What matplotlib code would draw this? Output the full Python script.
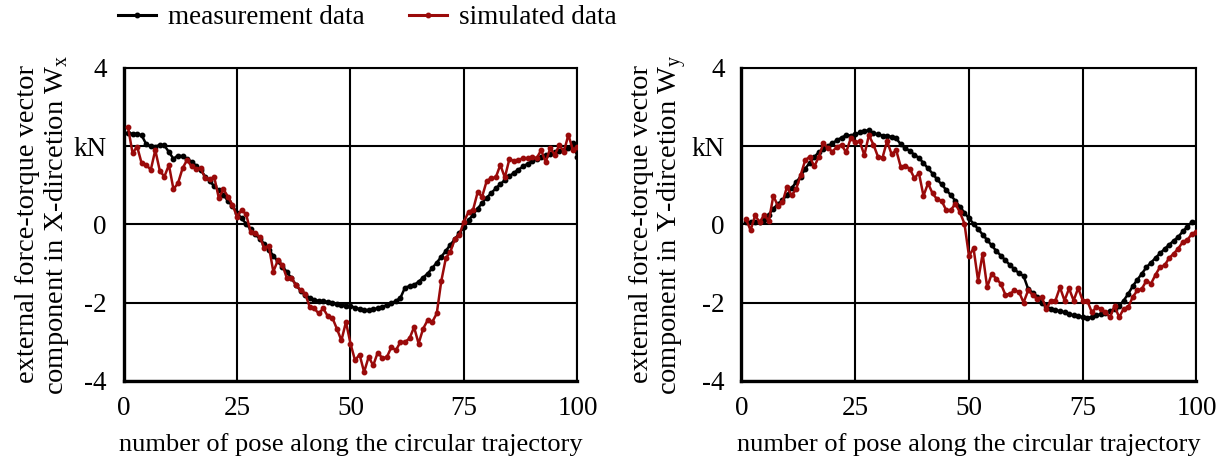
import matplotlib
matplotlib.use("Agg")
import matplotlib.pyplot as plt
from matplotlib.lines import Line2D

plt.rcParams['font.family'] = ['Liberation Serif', 'DejaVu Serif']
plt.rcParams['mathtext.fontset'] = 'custom'
plt.rcParams['mathtext.rm'] = 'Liberation Serif'

pose = list(range(1, 101))

wx_measured = [2.33, 2.32, 2.31, 2.28, 2.05, 2.00, 1.99, 2.03, 2.02, 1.85,
               1.68, 1.76, 1.74, 1.68, 1.60, 1.50, 1.40, 1.22, 1.10, 0.98,
               0.87, 0.75, 0.60, 0.47, 0.30, 0.15, 0.02, -0.13, -0.25, -0.37,
               -0.50, -0.65, -0.80, -0.95, -1.08, -1.22, -1.38, -1.55, -1.70, -1.80,
               -1.88, -1.93, -1.96, -1.97, -1.98, -2.00, -2.03, -2.06, -2.08, -2.10,
               -2.13, -2.17, -2.20, -2.19, -2.17, -2.15, -2.12, -2.06, -2.02, -1.96,
               -1.88, -1.62, -1.58, -1.55, -1.47, -1.36, -1.26, -1.12, -0.98, -0.83,
               -0.68, -0.52, -0.38, -0.22, -0.08, 0.10, 0.25, 0.40, 0.55, 0.68,
               0.80, 0.92, 1.03, 1.13, 1.23, 1.32, 1.40, 1.48, 1.55, 1.62,
               1.67, 1.72, 1.77, 1.81, 1.85, 1.88, 1.90, 1.95, 2.08, 1.73]

wx_simulated = [2.48, 1.82, 1.99, 1.56, 1.53, 1.39, 1.90, 1.37, 1.22, 1.52,
                0.90, 1.05, 1.43, 1.65, 1.48, 1.42, 1.44, 1.18, 1.16, 1.20,
                0.67, 0.90, 0.71, 0.50, 0.20, 0.37, 0.26, -0.19, -0.23, -0.32,
                -0.60, -0.55, -1.21, -0.92, -1.04, -1.38, -1.37, -1.56, -1.68, -1.77,
                -2.11, -2.15, -2.28, -2.15, -2.35, -2.39, -2.67, -2.97, -2.50, -3.05,
                -3.48, -3.33, -3.78, -3.39, -3.61, -3.28, -3.42, -3.40, -3.14, -3.22,
                -3.01, -3.01, -2.92, -2.63, -3.05, -2.67, -2.45, -2.50, -2.28, -1.45,
                -0.87, -0.70, -0.38, -0.26, 0.07, 0.32, 0.37, 0.82, 0.71, 1.11,
                1.18, 1.20, 1.52, 1.20, 1.67, 1.62, 1.65, 1.69, 1.69, 1.73,
                1.69, 1.90, 1.59, 1.95, 1.78, 2.03, 1.86, 2.29, 1.90, 1.99]

wy_measured = [0.06, 0.05, 0.05, 0.06, 0.12, 0.25, 0.40, 0.52, 0.62, 0.75,
               0.92, 1.08, 1.22, 1.42, 1.58, 1.72, 1.85, 1.93, 2.00, 2.08,
               2.15, 2.22, 2.28, 2.27, 2.30, 2.35, 2.38, 2.41, 2.33, 2.30,
               2.27, 2.26, 2.24, 2.20, 2.05, 1.95, 1.88, 1.78, 1.70, 1.57,
               1.43, 1.30, 1.15, 1.02, 0.88, 0.75, 0.60, 0.45, 0.30, 0.15,
               0.02, -0.12, -0.26, -0.40, -0.54, -0.68, -0.80, -0.92, -1.04, -1.15,
               -1.25, -1.32, -1.65, -1.75, -1.85, -2.00, -2.10, -2.17, -2.20, -2.22,
               -2.25, -2.30, -2.33, -2.35, -2.37, -2.39, -2.37, -2.33, -2.30, -2.26,
               -2.22, -2.17, -2.10, -1.95, -1.78, -1.58, -1.42, -1.26, -1.10, -0.98,
               -0.86, -0.74, -0.63, -0.52, -0.42, -0.32, -0.18, -0.06, 0.06, 0.05]

wy_simulated = [0.13, -0.15, 0.23, 0.05, 0.25, 0.08, 0.73, 0.47, 0.56, 0.96,
                0.74, 0.90, 1.26, 1.64, 1.73, 1.48, 1.73, 2.07, 1.95, 1.86,
                1.99, 2.03, 1.84, 2.20, 2.10, 2.12, 1.77, 2.28, 2.04, 1.73,
                1.71, 2.13, 1.79, 1.90, 1.47, 1.50, 1.42, 1.18, 1.31, 0.73,
                1.05, 0.79, 0.64, 0.60, 0.36, 0.36, 0.53, 0.31, 0.02, -0.81,
                -0.61, -1.44, -0.75, -1.61, -1.26, -1.39, -1.52, -1.80, -1.78, -1.69,
                -1.73, -2.00, -1.69, -1.80, -1.90, -1.86, -2.16, -1.95, -1.95, -1.61,
                -1.95, -1.64, -1.95, -1.63, -1.95, -1.95, -2.25, -2.12, -2.16, -2.25,
                -2.38, -2.08, -2.38, -2.16, -2.12, -1.86, -1.69, -1.65, -1.44, -1.52,
                -1.29, -1.09, -1.05, -0.86, -0.75, -0.62, -0.45, -0.40, -0.24, -0.20]

x_ticks = [0, 25, 50, 75, 100]
y_ticks = [-4, -2, 0, 2, 4]
y_ticklabels = ['-4', '-2', '0', 'kN', '4']
xlabel = 'number of pose along the circular trajectory'
ylabels = ['external force-torque vector\ncomponent in X-dircetion W$_\\mathregular{x}$',
           'external force-torque vector\ncomponent in Y-dircetion W$_\\mathregular{y}$']
legend_labels = ['measurement data', 'simulated data']

black = '#000000'
red = '#9A0A0A'

fig = plt.figure(figsize=(12.24, 4.61), dpi=100)
ax1 = fig.add_axes([0.1009, 0.1742, 0.3709, 0.6783])
ax2 = fig.add_axes([0.6058, 0.1742, 0.3717, 0.6783])

for ax, meas, sim, yl in [(ax1, wx_measured, wx_simulated, ylabels[0]),
                          (ax2, wy_measured, wy_simulated, ylabels[1])]:
    ax.plot(pose, meas, color=black, lw=1.8, marker='o', ms=3.2, zorder=3)
    ax.plot(pose, sim, color=red, lw=1.8, marker='o', ms=3.2, zorder=4)
    ax.set_xlim(0, 100)
    ax.set_ylim(-4, 4)
    ax.set_xticks(x_ticks)
    ax.set_yticks(y_ticks)
    ax.set_yticklabels(y_ticklabels)
    ax.grid(True, color='black', lw=1.5)
    ax.set_axisbelow(True)
    ax.tick_params(length=0, labelsize=19.5)
    ax.tick_params(axis='x', pad=11)
    ax.tick_params(axis='y', pad=12)
    for s in ['left', 'bottom']:
        ax.spines[s].set_linewidth(2.4)
    for s in ['top', 'right']:
        ax.spines[s].set_linewidth(1.5)
    ax.set_xlabel(xlabel, fontsize=19, labelpad=9)
    ax.set_ylabel(yl, fontsize=20.5, labelpad=2, linespacing=1.08)

handles = [Line2D([0], [0], color=black, lw=2.2, marker='o', ms=3.2),
           Line2D([0], [0], color=red, lw=2.2, marker='o', ms=3.2)]
fig.legend(handles, legend_labels, loc='center', bbox_to_anchor=(0.300, 0.961),
           ncol=2, frameon=False, fontsize=19.5, handlelength=1.4,
           columnspacing=1.65, handletextpad=0.45)

fig.savefig('out.png', dpi=100)
